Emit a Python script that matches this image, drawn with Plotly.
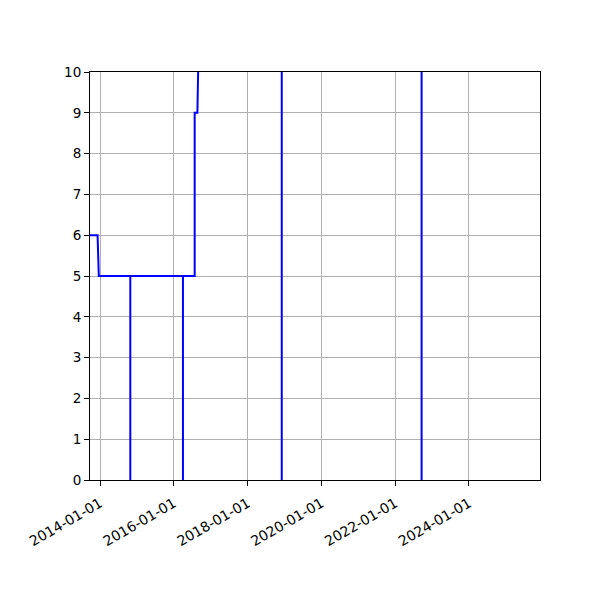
import plotly.graph_objects as go

dates = [
    "2013-08-01", "2013-12-08", "2013-12-20",
    "2014-10-28", "2014-10-28", "2014-10-28",
    "2016-04-01", "2016-04-01", "2016-04-01",
    "2016-07-26", "2016-07-26", "2016-08-22", "2016-09-20",
    "2018-12-05", "2018-12-05", "2018-12-05",
    "2022-09-19", "2022-09-19", "2022-09-19",
    "2025-10-01",
]
values = [
    6, 6, 5,
    5, 0, 5,
    5, 0, 5,
    5, 9, 9, 13,
    13, 0, 13,
    13, 0, 13,
    13,
]

x_range = ["2013-09-24", "2025-12-04"]
y_ticks = list(range(0, 11))

fig = go.Figure()
fig.add_trace(go.Scatter(
    x=dates, y=values, mode="lines",
    line=dict(color="#0000ff", width=2),
    hoverinfo="skip", showlegend=False,
))

axis_common = dict(
    showline=True, linecolor="black", linewidth=1, mirror=True,
    ticks="outside", ticklen=5, tickwidth=1, tickcolor="black",
    showgrid=True, gridcolor="#b0b0b0", gridwidth=1,
    zeroline=False,
)

fig.update_xaxes(
    type="date", range=x_range,
    tick0="2014-01-01", dtick="M24", tickformat="%Y-%m-%d",
    tickangle=-30, ticklabelstandoff=4,
    tickfont=dict(family="DejaVu Sans", size=14, color="black"),
    **axis_common,
)
fig.update_yaxes(
    range=[0, 10], tickvals=y_ticks,
    tickfont=dict(family="DejaVu Sans", size=13.5, color="black"),
    **axis_common,
)

fig.update_layout(
    width=600, height=600,
    margin=dict(l=82, r=68, t=64, b=128),
    plot_bgcolor="white", paper_bgcolor="white",
    font=dict(family="DejaVu Sans", size=13, color="black"),
)

fig.write_html("out.html")
